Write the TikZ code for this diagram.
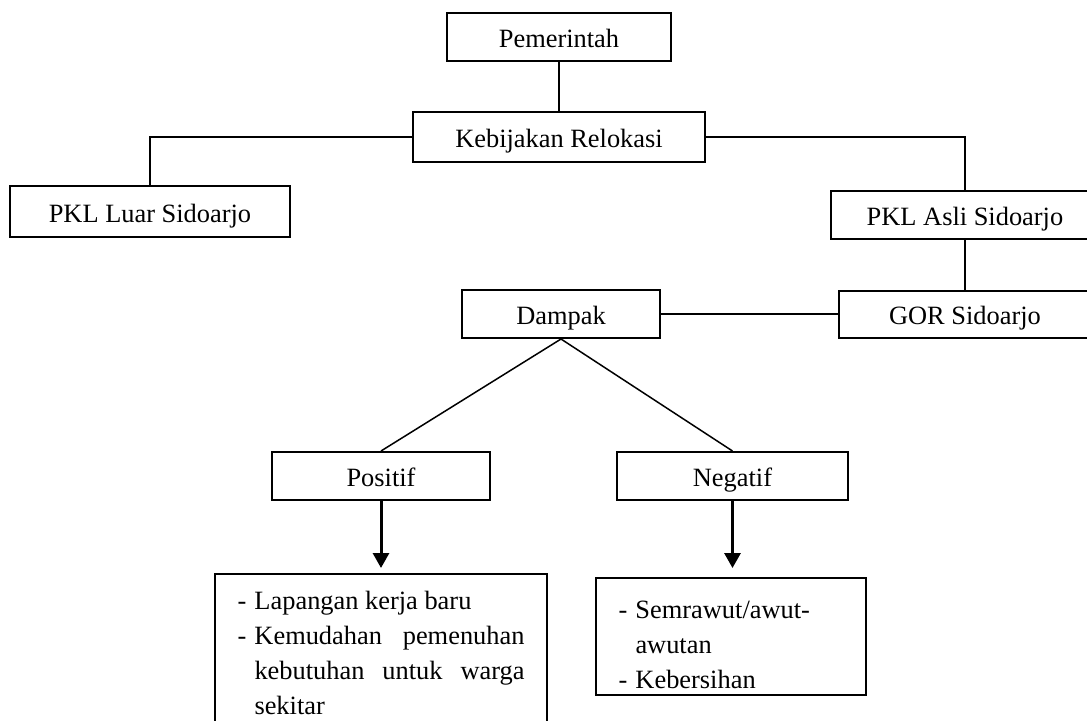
\documentclass[tikz,border=0pt]{standalone}
\usepackage{fontspec}
\setmainfont{Liberation Serif}
\usetikzlibrary{arrows.meta}
\newcommand\dashline[1]{\makebox[8.5pt][l]{-}#1}
\newcommand\hangline[1]{\hspace*{8.5pt}#1}
\newcommand\fillline[1]{\makebox[135pt][s]{#1}}
\begin{document}
\begin{tikzpicture}[x=0.5pt,y=-0.5pt,
  box/.style={draw,line width=1pt,inner sep=0pt,minimum height=24pt,text height=10.5pt,text depth=0pt,font=\fontsize{13.2pt}{17.5pt}\selectfont},
  listbox/.style={draw,line width=1pt,inner xsep=11.25pt,inner ysep=0pt,anchor=north west,align=left,font=\fontsize{13.2pt}{17.5pt}\selectfont},
  link/.style={line width=1pt},
  arr/.style={line width=1.5pt,-{Triangle[width=8pt,length=7.5pt]}}]
  \useasboundingbox (0,0) rectangle (1087,720);
  \clip (0,0) rectangle (1087,720);
  \node[box,minimum width=112pt] (pem) at (559,36.5) {Pemerintah};
  \node[box,minimum width=146pt,minimum height=25pt] (keb) at (559,137) {Kebijakan Relokasi};
  \node[box,minimum width=140pt,minimum height=25.5pt] (luar) at (150,211.5) {PKL Luar Sidoarjo};
  \node[box,minimum width=134pt] (asli) at (965,214.5) {PKL Asli Sidoarjo};
  \node[box,minimum width=126pt,minimum height=23.5pt] (gor) at (965,314) {GOR Sidoarjo};
  \node[box,minimum width=99pt] (dampak) at (561,314) {Dampak};
  \node[box,minimum width=109pt] (pos) at (381,476) {Positif};
  \node[box,minimum width=115.5pt] (neg) at (732.5,476) {Negatif};
  \node[listbox] (poslist) at (214,573)
    {\rule{0pt}{17.5pt}\dashline{Lapangan kerja baru}\\
     \dashline{\fillline{Kemudahan pemenuhan}}\\
     \hangline{\fillline{kebutuhan untuk warga}}\\
     \hangline{sekitar}\rule[-9pt]{0pt}{9pt}};
  \node[listbox] (neglist) at (595,577)
    {\rule{0pt}{20pt}\makebox[112.5pt][l]{\dashline{Semrawut/awut-}}\\
     \hangline{awutan}\\
     \dashline{Kebersihan}\rule[-3.5pt]{0pt}{3.5pt}};
  \draw[link] (pem) -- (keb);
  \draw[link] (keb.west) -| (luar.north);
  \draw[link] (keb.east) -| (asli.north);
  \draw[link] (asli) -- (gor);
  \draw[link] (dampak) -- (gor);
  \draw[line width=0.75pt] (dampak.south) -- (pos.north) (dampak.south) -- (neg.north);
  \draw[arr,shorten >=2.5pt] (pos.south) -- (pos.south |- poslist.north);
  \draw[arr,shorten >=4.5pt] (neg.south) -- (neg.south |- neglist.north);
\end{tikzpicture}
\end{document}
